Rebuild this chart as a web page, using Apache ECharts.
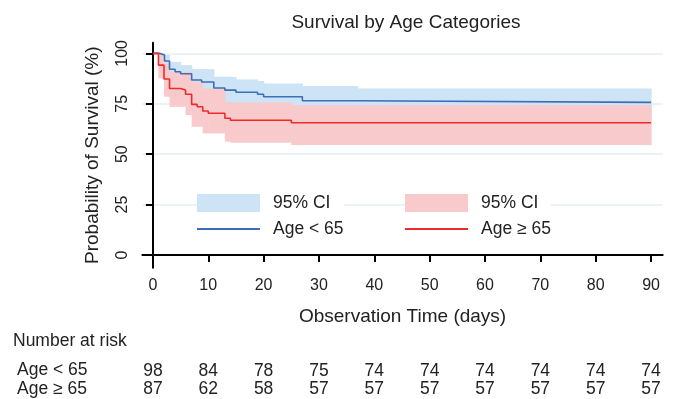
<!DOCTYPE html>
<html>
<head>
<meta charset="utf-8">
<script src="https://cdn.jsdelivr.net/npm/echarts@6/dist/echarts.min.js"></script>
<style>
  html, body { margin: 0; padding: 0; background: #fff; }
  #chart { width: 677px; height: 399px; }
</style>
</head>
<body>
<div id="chart"></div>
<script>
// Kaplan-Meier estimates (time in days, survival in %)
const blueTime  = [0, 1.2, 2.1, 3.0, 4.0, 5.0, 7.0, 8.8, 11.0, 13.0, 15.0, 18.9, 20.0, 27.0, 37.0, 90]
const blueSurv  = [100, 99.2, 96.2, 92.1, 90.9, 89.9, 86.8, 85.8, 82.8, 81.8, 80.7, 79.7, 78.5, 76.5, 75.7, 75.7]
const blueLower = [100, 96, 91.5, 86, 84.5, 83, 79.5, 78, 75, 74, 72.5, 71.5, 70, 68, 67, 67]
const blueUpper = [100, 100, 99.2, 95.8, 95.8, 94.2, 92.2, 92.2, 88.4, 88.4, 87.1, 86.3, 85.1, 83.8, 82.6, 82.6]

const redTime  = [0, 1.0, 2.0, 3.0, 5.0, 5.9, 7.0, 8.0, 9.0, 10.0, 13.0, 14.0, 25.0, 90]
const redSurv  = [100, 94.2, 87.3, 82.6, 81.8, 79.7, 74.7, 73.5, 71.4, 70.3, 67.8, 66.8, 65.6, 65.6]
const redLower = [100, 87.6, 78.5, 73.5, 73.5, 69.4, 63.6, 63.6, 60.3, 60.3, 56.2, 55.7, 54.5, 54.5]
const redUpper = [100, 99.2, 95.0, 90.9, 90.9, 90.9, 85.9, 85.9, 82.6, 82.6, 76.0, 75.7, 74.4, 74.4]

const xTicks = [0, 10, 20, 30, 40, 50, 60, 70, 80, 90]
const yTicks = [0, 25, 50, 75, 100]
const gridValues = [25, 50, 75, 100]
const riskYoung = [98, 84, 78, 75, 74, 74, 74, 74, 74, 74]
const riskOld = [87, 62, 58, 57, 57, 57, 57, 57, 57, 57]

const font = 'Liberation Sans, Arial, sans-serif'
const textColor = '#222'
const blueLine = '#3d6fb6'
const redLine = '#ee2b2b'
const blueBand = '#cde4f6'
const redBand = '#f9cacc'

function pairs(t, v) {
  return t.map((x, i) => [x, v[i]])
}
// one rectangle per step: [start, end, lower, upper]
function steps(t, lo, hi) {
  const out = []
  for (let i = 0; i < t.length - 1; i++) {
    out.push([t[i], t[i + 1], lo[i], hi[i]])
  }
  return out
}
function bandRender(color) {
  return function (params, api) {
    const p0 = api.coord([api.value(0), api.value(3)])
    const p1 = api.coord([api.value(1), api.value(2)])
    return {
      type: 'rect',
      shape: { x: p0[0], y: p0[1], width: p1[0] - p0[0] + 0.6, height: p1[1] - p0[1] },
      style: { fill: color }
    }
  }
}

const chart = echarts.init(document.getElementById('chart'))

// risk table rows drawn as extra x axes that share the plot scale
function riskAxis(values, offset) {
  return {
    type: 'value',
    min: -1.9,
    max: 92.1,
    position: 'bottom',
    offset: offset,
    axisLine: { show: false },
    axisTick: { show: false },
    splitLine: { show: false },
    axisLabel: {
      customValues: xTicks,
      margin: 0,
      verticalAlign: 'middle',
      fontFamily: font,
      fontSize: 17.5,
      color: textColor,
      formatter: function (v) {
        return values[xTicks.indexOf(Math.round(v))]
      }
    }
  }
}

function legendFor(left, ciName, ciColor, lineName, lineColor) {
  return {
    orient: 'vertical',
    left: left,
    top: 194,
    padding: 0,
    itemGap: 8,
    itemWidth: 63,
    itemHeight: 18,
    backgroundColor: '#fff',
    selectedMode: false,
    textStyle: { fontFamily: font, fontSize: 17.5, color: textColor, padding: [0, 0, 0, 8] },
    formatter: function (name) { return name.indexOf('CI') === 0 ? '95% CI' : name },
    data: [
      { name: ciName, icon: 'rect', itemStyle: { color: ciColor } },
      { name: lineName, icon: 'path://M0,0H630V20H0Z', itemStyle: { color: lineColor } }
    ]
  }
}

let option = {
  animation: false,
  backgroundColor: '#fff',
  title: {
    text: 'Survival by Age Categories',
    left: 401,
    top: 8,
    textAlign: 'center',
    textStyle: { fontFamily: font, fontSize: 19, fontWeight: 'normal', color: textColor }
  },
  grid: { left: 142.4, right: 14.3, top: 42.7, bottom: 131.3 },
  legend: [
    legendFor(197, 'CI <65', blueBand, 'Age < 65', blueLine),
    legendFor(405, 'CI >=65', redBand, 'Age ≥ 65', redLine)
  ],
  xAxis: [
    {
      type: 'value',
      min: -1.9,
      max: 92.1,
      name: 'Observation Time (days)',
      nameLocation: 'middle',
      nameGap: 40,
      nameTextStyle: { fontFamily: font, fontSize: 19, color: textColor },
      axisLine: { show: true, lineStyle: { color: '#000', width: 2 } },
      axisTick: { show: true, customValues: xTicks, length: 7, lineStyle: { color: '#000', width: 2 } },
      splitLine: { show: false },
      axisLabel: { customValues: xTicks, margin: 10, fontFamily: font, fontSize: 16, color: textColor }
    },
    riskAxis(riskYoung, 103.3),
    riskAxis(riskOld, 121.3)
  ],
  yAxis: {
    type: 'value',
    min: -6.3,
    max: 105.3,
    name: 'Probability of Survival (%)',
    nameLocation: 'middle',
    nameGap: 40,
    nameTextStyle: { fontFamily: font, fontSize: 19, color: textColor },
    axisLine: { show: true, lineStyle: { color: '#000', width: 2 } },
    axisTick: { show: true, customValues: yTicks, length: 7, lineStyle: { color: '#000', width: 2 } },
    splitLine: { show: false },
    axisLabel: { customValues: yTicks, rotate: 90, margin: 12, fontFamily: font, fontSize: 16, color: textColor }
  },
  graphic: [
    { type: 'text', left: 13, top: 332, style: { text: 'Number at risk', fontFamily: font, fontSize: 17.5, fill: textColor } },
    { type: 'text', left: 17, top: 361, style: { text: 'Age < 65', fontFamily: font, fontSize: 17.5, fill: textColor } },
    { type: 'text', left: 17, top: 380, style: { text: 'Age ≥ 65', fontFamily: font, fontSize: 17.5, fill: textColor } }
  ],
  series: [
    {
      name: 'grid',
      type: 'line',
      data: [],
      silent: true,
      z: 0,
      markLine: {
        silent: true,
        z: 0,
        symbol: 'none',
        label: { show: false },
        lineStyle: { color: '#e4eff2', width: 1.5, type: 'solid' },
        data: gridValues.map(v => ({ yAxis: v }))
      }
    },
    {
      name: 'CI <65', type: 'custom', silent: true, z: 1,
      itemStyle: { color: blueBand },
      encode: { x: [0, 1], y: [2, 3] },
      renderItem: bandRender(blueBand),
      data: steps(blueTime, blueLower, blueUpper)
    },
    {
      name: 'CI >=65', type: 'custom', silent: true, z: 1,
      itemStyle: { color: redBand },
      encode: { x: [0, 1], y: [2, 3] },
      renderItem: bandRender(redBand),
      data: steps(redTime, redLower, redUpper)
    },
    {
      name: 'Age < 65', type: 'line', step: 'end', symbol: 'none', z: 2,
      itemStyle: { color: blueLine },
      lineStyle: { color: blueLine, width: 1.6 },
      data: pairs(blueTime, blueSurv)
    },
    {
      name: 'Age ≥ 65', type: 'line', step: 'end', symbol: 'none', z: 2,
      itemStyle: { color: redLine },
      lineStyle: { color: redLine, width: 1.6 },
      data: pairs(redTime, redSurv)
    }
  ]
}

chart.setOption(option)
</script>
</body>
</html>
